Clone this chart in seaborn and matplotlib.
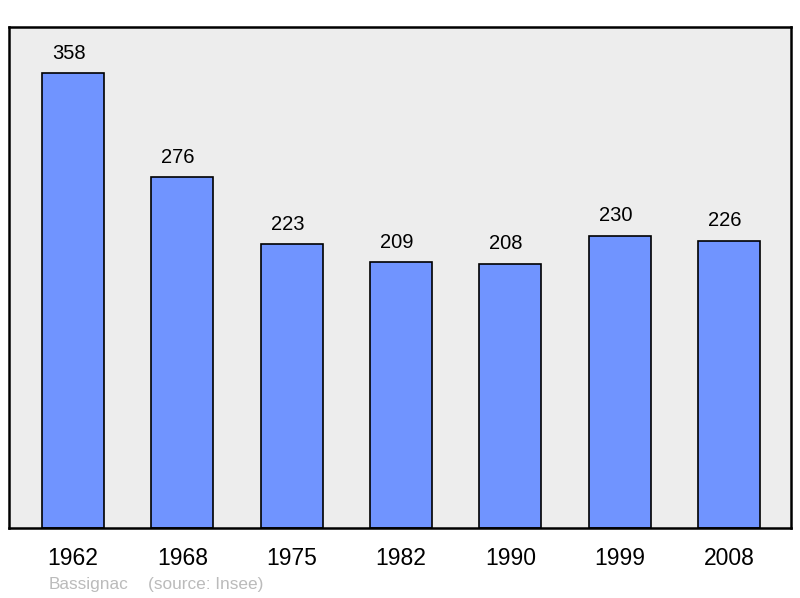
import matplotlib
matplotlib.use("Agg")
import matplotlib.pyplot as plt
import seaborn as sns
import pandas as pd

years = ["1962", "1968", "1975", "1982", "1990", "1999", "2008"]
population = [358, 276, 223, 209, 208, 230, 226]
commune = "Bassignac"
source = "(source: Insee)"

sns.set_theme(style="white")
plt.rcParams['font.family'] = ['Liberation Sans', 'DejaVu Sans']

df = pd.DataFrame({"year": years, "pop": population})

fig = plt.figure(figsize=(8.0, 5.98), dpi=100)
ax = fig.add_axes([9/800, 1-528/598, 782/800, 501/598])
ax.set_facecolor("#ededed")

sns.barplot(data=df, x="year", y="pop", color="#7094ff", saturation=1,
            width=0.567, edgecolor="black", linewidth=1.2, ax=ax)

ax.set_xlim(-0.585, 6.567)
ax.set_ylim(0, 394)
ax.set_xlabel("")
ax.set_ylabel("")
ax.set_yticks([])
ax.tick_params(axis="x", length=0, labelsize=16.5, pad=14, colors="black")
for s in ax.spines.values():
    s.set_visible(True)
    s.set_color("black")
    s.set_linewidth(1.8)

for i, v in enumerate(population):
    ax.text(i - 0.04, v + 8, str(v), ha="center", va="bottom", fontsize=14.5, color="black")

fig.text(49/800, 1-585/598, commune, fontsize=12.4, color="#bbbbbb", va="center", ha="left")
fig.text(148/800, 1-585/598, source, fontsize=12.4, color="#bbbbbb", va="center", ha="left")

fig.savefig("out.png", dpi=100, facecolor="white")
